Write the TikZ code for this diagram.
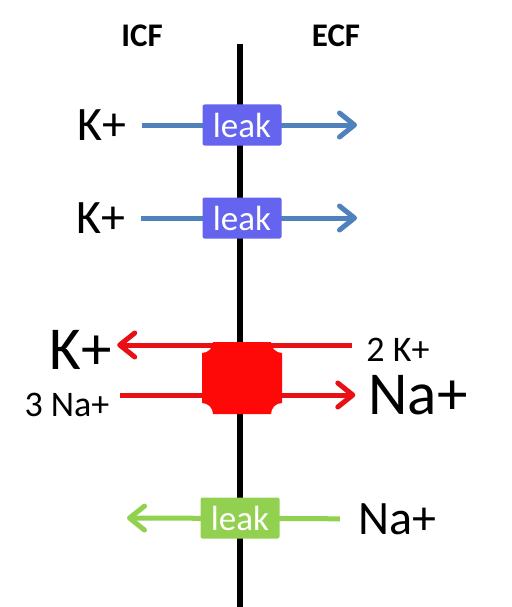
\documentclass[tikz,border=0pt]{standalone}
\usepackage{fontspec}
\setmainfont{Carlito}
\usetikzlibrary{arrows.meta}
\definecolor{leakblue}{RGB}{100,100,238}
\definecolor{flowblue}{RGB}{79,129,189}
\definecolor{pumpred}{RGB}{255,8,8}
\definecolor{flowred}{RGB}{232,16,20}
\definecolor{leakgreen}{RGB}{146,208,80}
\tikzset{
  side/.style={font=\fontsize{33}{36}\selectfont\bfseries},
  ion/.style={inner sep=0pt, font=\fontsize{48}{50}\selectfont},
  bigion/.style={inner sep=0pt, font=\fontsize{61}{64}\selectfont},
  smallion/.style={inner sep=0pt, font=\fontsize{36}{40}\selectfont},
  channel/.style={minimum width=79pt, minimum height=41pt, inner sep=0pt,
    rounded corners=2pt, text=white, font=\fontsize{35}{38}\selectfont},
  flow/.style={line width=5pt, ->}
}

\begin{document}
\begin{tikzpicture}[x=1pt, y=-1pt, >={Straight Barb[length=15pt,width=24pt,round]}]
    \useasboundingbox (0,0) rectangle (511,607);

    \node[side] (icf) at (142,36) {ICF};
    \node[side] (ecf) at (336,36) {ECF};
    \coordinate (mtop) at (240,44);
    \coordinate (mbot) at (240,607);
    \draw[line width=6pt] (mtop) -- (mbot);

    \node[ion] (k1) at (102,125) {K+};
    \node[ion] (k2) at (101,218) {K+};
    \coordinate (k1out) at (357,125);
    \coordinate (k2out) at (357,218);
    \draw[flow, flowblue, shorten <=15pt] (k1) -- (k1out);
    \draw[flow, flowblue, shorten <=15pt] (k2) -- (k2out);

    \node[bigion] (bigK) at (81,350) {K+};
    \node[smallion] (threeNa) at (67,405) {3 Na+};
    \node[smallion] (twoK) at (398,350) {2 K+};
    \node[bigion] (bigNa) at (418,395) {Na+};
    \draw[flow, flowred, shorten <=14pt, shorten >=5pt]
        ([yshift=5pt]twoK.west) -- ([yshift=5pt]bigK.east);
    \draw[flow, flowred, shorten <=10pt, shorten >=13pt]
        (threeNa.east |- bigNa.west) -- (bigNa.west);

    \node[ion] (na) at (397,519) {Na+};
    \coordinate (naout) at (127,518);
    \draw[flow, leakgreen, shorten <=18pt] (na) -- (naout);

    \node[channel, fill=leakblue] (leak1) at (242,125) {leak};
    \node[channel, fill=leakblue] (leak2) at (242,218) {leak};
    \node[channel, fill=leakgreen] (leak3) at (240,518) {leak};

    \def\r{11}
    \fill[pumpred] (202,342+\r) arc[start angle=90, end angle=0, radius=\r]
        -- (282-\r,342) arc[start angle=180, end angle=90, radius=\r]
        -- (282,414-\r) arc[start angle=270, end angle=180, radius=\r]
        -- (202+\r,414) arc[start angle=0, end angle=-90, radius=\r] -- cycle;
\end{tikzpicture}
\end{document}
